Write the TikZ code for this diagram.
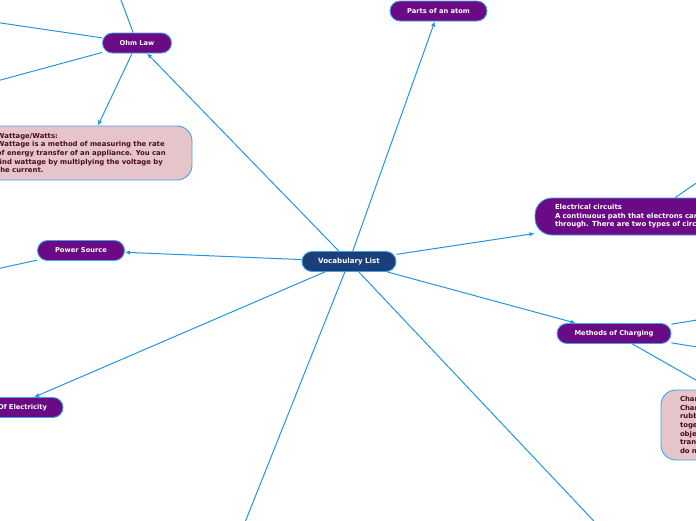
\documentclass[tikz,border=0pt]{standalone}
\usepackage{fontspec}
\setmainfont{DejaVu Sans}
\usetikzlibrary{arrows.meta}
\definecolor{vocnavy}{HTML}{1B3F7A}
\definecolor{vocpurple}{HTML}{6A0A84}
\definecolor{vocpink}{HTML}{E6C5CA}
\definecolor{vocmaroon}{HTML}{4A0C24}
\definecolor{vocline}{HTML}{2396DE}
\definecolor{vocrim}{HTML}{3FA2E6}
\tikzset{
  pill/.style={rounded corners=10pt,draw=vocrim,line width=0.9pt,fill=vocpurple,text=white,font=\fontsize{6.7}{8}\selectfont\bfseries,inner sep=0pt,minimum height=20pt},
  root/.style={pill,fill=vocnavy,font=\fontsize{7.1}{8}\selectfont\bfseries},
  note/.style={rounded corners=15pt,draw=vocrim,line width=0.9pt,fill=vocpink,text=vocmaroon,font=\fontsize{6.9}{8.6}\selectfont\bfseries,inner xsep=19pt,inner ysep=0pt,align=left},
  bignote/.style={note,rounded corners=17pt,fill=vocpurple,text=white,inner xsep=20pt},
  link/.style={-{Latex[length=5pt,width=4.5pt]},draw=vocline,line width=1pt},
}
\begin{document}
\begin{tikzpicture}[x=1pt,y=-1pt]
  \useasboundingbox (0,0) rectangle (696,520);
  \clip (0,0) rectangle (696,520);
  \node[root,minimum width=94pt] (vocab) at (349,261.5) {Vocabulary List};
  \node[pill,minimum width=69pt] (ohm) at (137,43) {Ohm Law};
  \node[pill,minimum width=97pt] (atom) at (438.5,11) {Parts of an atom};
  \node[pill,minimum width=87pt] (power) at (81,250.5) {Power Source};
  \node[pill,minimum width=106pt,text width=74pt,align=right] (sources) at (10,407.5) {Of Electricity};
  \node[pill,minimum width=114pt] (charging) at (614,333.5) {Methods of Charging};
  \node[bignote,text width=185pt,minimum height=37pt] (circuits) at (647.5,216.5) {Electrical circuits\\A continuous path that electrons can flow\\through. There are two types of circuits.};
  \node[note,text width=176pt,minimum height=54pt] (watts) at (85,153) {Wattage/Watts:\\Wattage is a method of measuring the rate\\of energy transfer of an appliance. You can\\find wattage by multiplying the voltage by\\the current.};
  \node[note,text width=190pt,minimum height=70pt] (friction) at (775,425) {Charging by Friction:\\Charging by friction is done by\\rubbing two neutral objects\\together, so that one of the\\objects takes electrons and a\\transfer of charge happens. They\\do not need to be conductors.};
  \coordinate (ohmup) at (105,-43);
  \coordinate (ohmleft) at (-40,17);
  \coordinate (ohmlow) at (-40,91);
  \coordinate (powerleft) at (-40,277);
  \coordinate (circuitsup) at (730,160);
  \coordinate (chargeup) at (740,313);
  \coordinate (chargelow) at (740,354);
  \coordinate (vocsw) at (226,570);
  \coordinate (vocse) at (640,570);
  \draw[link] (vocab) -- (ohm);
  \draw[link] (vocab) -- (atom);
  \draw[link] (vocab) -- (power);
  \draw[link] (vocab) -- (sources);
  \draw[link] (vocab) -- (circuits);
  \draw[link] (vocab) -- (charging);
  \draw[link] (vocab) -- (vocsw);
  \draw[link] (vocab) -- (vocse);
  \draw[link] (ohm) -- (ohmup);
  \draw[link] (ohm) -- (ohmleft);
  \draw[link] (ohm) -- (ohmlow);
  \draw[link] (ohm) -- (watts);
  \draw[link] (power) -- (powerleft);
  \draw[link] (circuits) -- (circuitsup);
  \draw[link] (charging) -- (chargeup);
  \draw[link] (charging) -- (chargelow);
  \draw[link] (charging) -- (friction);
\end{tikzpicture}
\end{document}
